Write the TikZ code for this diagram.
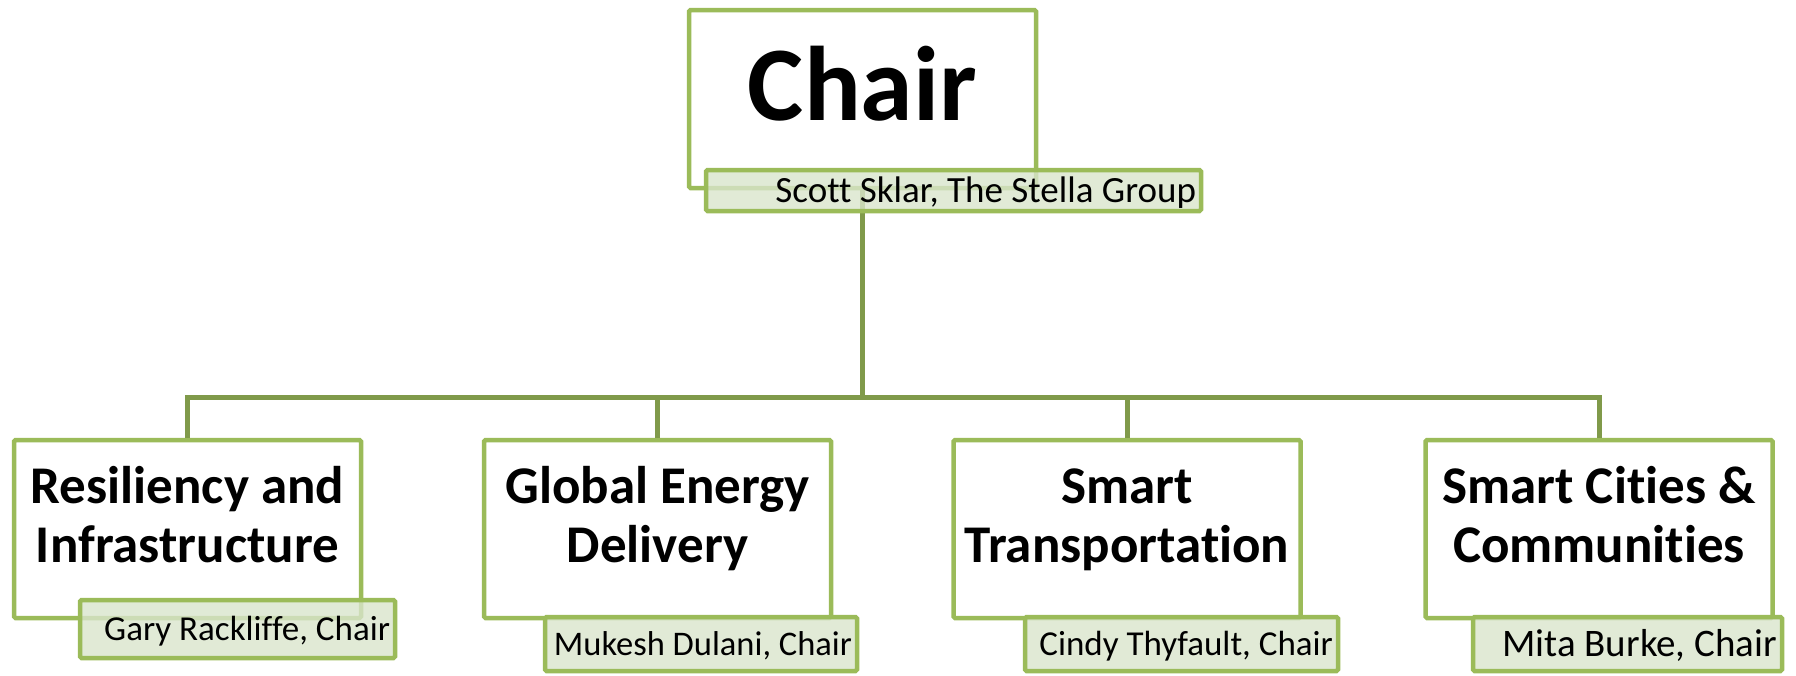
\documentclass[tikz,border=0pt]{standalone}
\usepackage{fontspec}
\setmainfont{Carlito}[Ligatures=NoCommon]
\definecolor{boxline}{RGB}{155,187,89}
\definecolor{connline}{RGB}{128,154,74}
\definecolor{subfill}{RGB}{217,229,204}
\begin{document}
\begin{tikzpicture}[x=1pt,y=-1pt,
  mainbox/.style={draw=boxline, line width=4.5pt, fill=white, rounded corners=1.5pt,
    minimum width=347pt, minimum height=178pt, inner sep=0pt},
  subbox/.style={draw=boxline, line width=4.5pt, fill=subfill, fill opacity=0.8,
    text opacity=1, rounded corners=1.5pt, inner xsep=5pt, inner ysep=0pt,
    align=flush right, text depth=0pt},
  subtext/.style={font=\fontsize{35pt}{40pt}\selectfont, text height=22.5pt},
  title/.style={font=\fontsize{53pt}{59pt}\selectfont\bfseries, align=center,
    inner sep=0pt, anchor=base},
  conn/.style={draw=connline, line width=5pt}]
\useasboundingbox (0,0) rectangle (1796,675);
% main boxes
\node[mainbox] (chair) at (862.5,99) {};
\node[mainbox] (b1) at (187.5,529) {};
\node[mainbox] (b2) at (657.5,529) {};
\node[mainbox] (b3) at (1127,529) {};
\node[mainbox] (b4) at (1599,529) {};
% connectors
\coordinate (bus) at (862.5,397);
\draw[conn] (chair.south) -- (bus);
\draw[conn] (b1.north) |- (bus);
\draw[conn] (b4.north) |- (bus);
\draw[conn] (b2.north) -- (b2.north |- bus);
\draw[conn] (b3.north) -- (b3.north |- bus);
% titles
\node[title, font=\fontsize{106pt}{120pt}\selectfont\bfseries] (ct) at (862.5,120) {Chair};
\node[title] (t1) at (187.5,562) {Resiliency and\\Infrastructure};
\node[title] (t2) at (657.5,562) {Global Energy\\Delivery};
\node[title] (t3) at (1127,562) {Smart\\Transportation};
\node[title] (t4) at (1599,562) {Smart Cities \&\\Communities};
% sub boxes
\node[subbox, font=\fontsize{37pt}{40pt}\selectfont, text height=23.5pt,
  text width=485pt, minimum height=41pt] (cs) at (953.5,190.5) {Scott Sklar, The Stella Group};
\node[subbox, subtext, text width=305pt, minimum height=58pt] (s1) at (237.5,629) {Gary Rackliffe, Chair};
\node[subbox, subtext, font=\fontsize{34.5pt}{40pt}\selectfont,
  text width=302pt, minimum height=54pt] (s2) at (701,644) {Mukesh Dulani, Chair};
\node[subbox, subtext, text width=303pt, minimum height=54pt] (s3) at (1181.5,644) {Cindy Thyfault, Chair};
\node[subbox, subtext, font=\fontsize{39pt}{42pt}\selectfont, text height=25pt,
  text width=299pt, minimum height=54pt] (s4) at (1627.5,644) {Mita Burke, Chair};
\end{tikzpicture}
\end{document}
